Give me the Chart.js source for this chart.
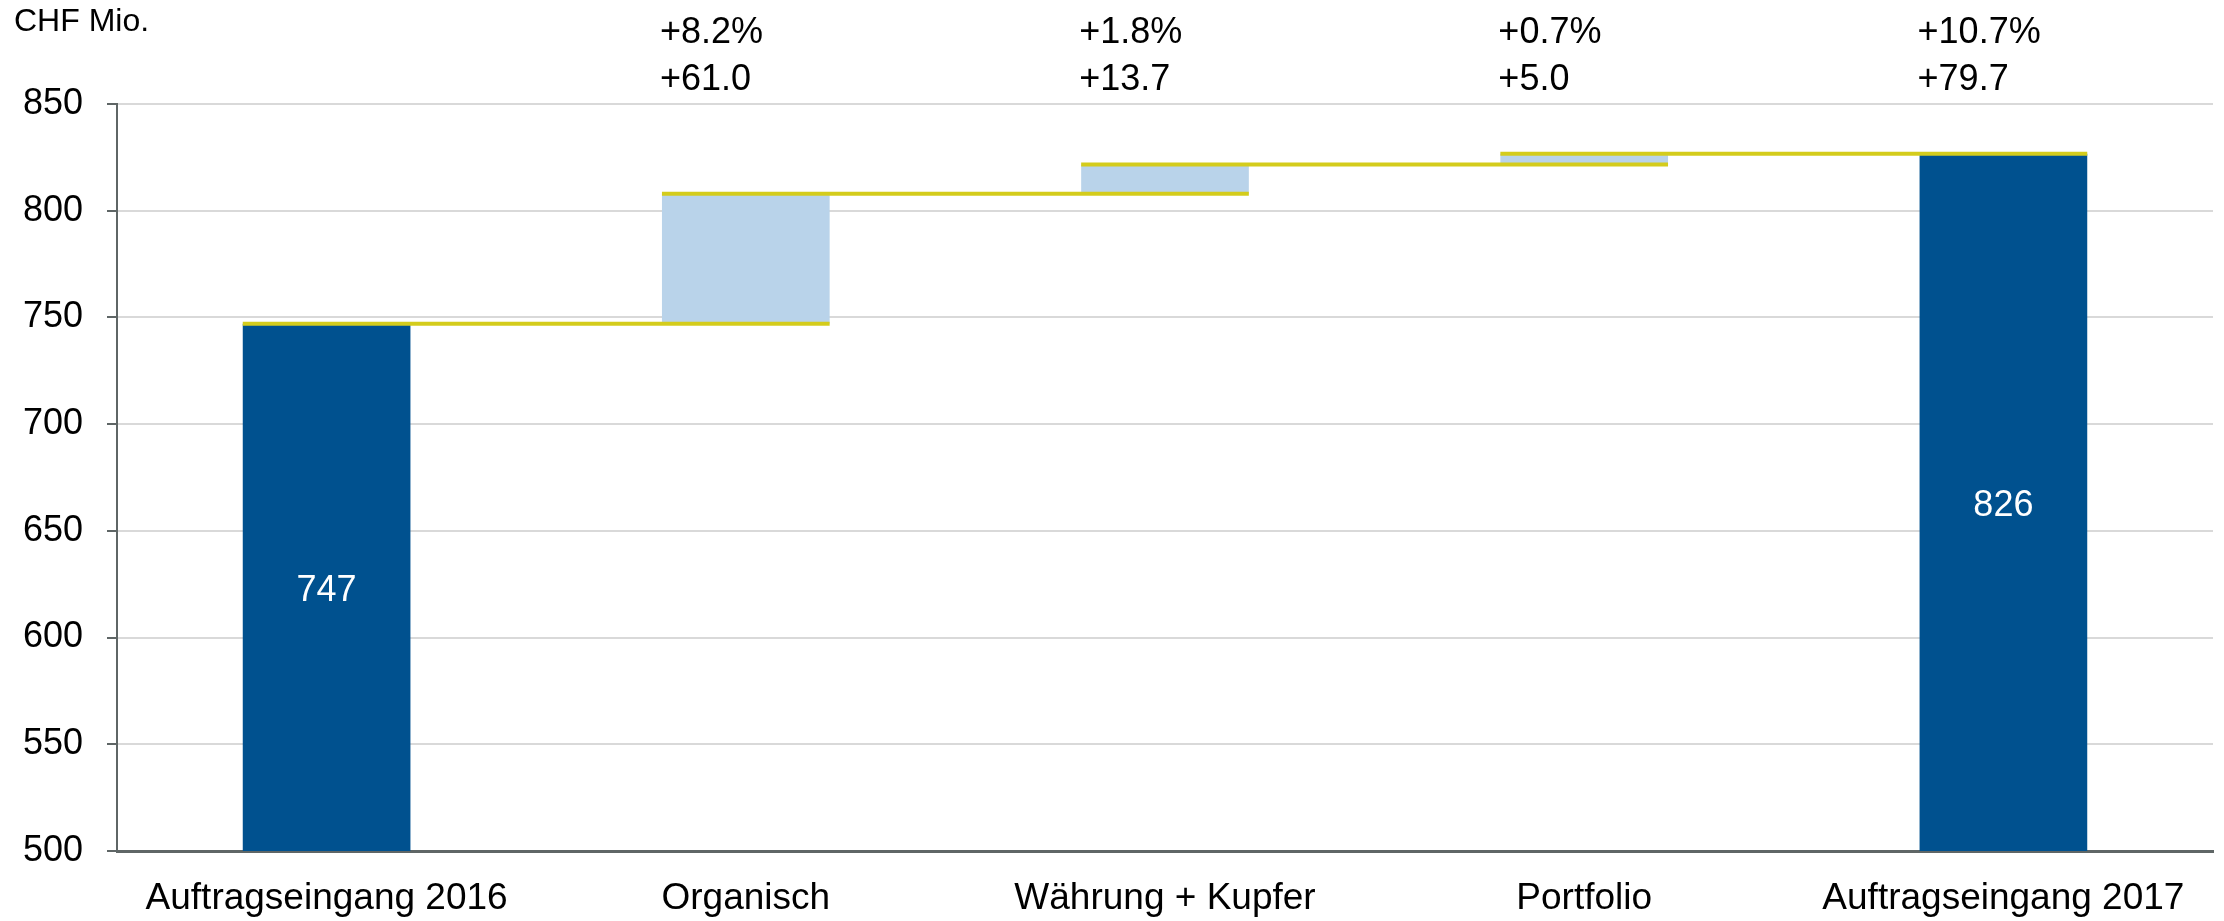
<!DOCTYPE html>
<html>
<head>
<meta charset="utf-8">
<script src="https://cdn.jsdelivr.net/npm/chart.js@4/dist/chart.umd.min.js"></script>
<style>
  html, body { margin: 0; padding: 0; background: #fff; }
  #wrap { width: 2224px; height: 921px; position: relative; }
</style>
</head>
<body>
<div id="wrap"><canvas id="orderChart"></canvas></div>
<script>
// categories and values
const categories = ['Auftragseingang 2016', 'Organisch', 'Währung + Kupfer', 'Portfolio', 'Auftragseingang 2017'];
const startValue = 747.0;
const changes = [61.0, 13.7, 5.0];
const endValue = 826.7;
const insideLabels = ['747', '', '', '', '826'];
const pctLabels = ['', '+8.2%', '+1.8%', '+0.7%', '+10.7%'];
const deltaLabels = ['', '+61.0', '+13.7', '+5.0', '+79.7'];
const yTicks = [500, 550, 600, 650, 700, 750, 800, 850];

const colors = {
    total: '#00518f',
    change: '#b9d3ea',
    connector: '#d4cc1c',
    grid: '#d9d9d9',
    axis: '#5f6666'
};
const FONT = "'Liberation Sans', Arial, sans-serif";

// running levels after each step
const levels = [startValue];
changes.forEach(c => levels.push(+(levels[levels.length - 1] + c).toFixed(1)));
levels[levels.length - 1] = endValue;

const barData = [{ x: 0, y: [yTicks[0], startValue] }];
changes.forEach((c, i) => barData.push({ x: i + 1, y: [levels[i], levels[i + 1]] }));
barData.push({ x: categories.length - 1, y: [yTicks[0], endValue] });
const barColors = categories.map((c, i) => (i === 0 || i === categories.length - 1) ? colors.total : colors.change);

// yellow connectors: from left edge of bar i to right edge of bar i+1
const halfBar = 0.2;
const connectorSets = levels.map((lv, i) => ({
    type: 'line',
    data: [{ x: i - halfBar, y: lv }, { x: i + 1 + halfBar, y: lv }],
    borderColor: colors.connector,
    borderWidth: 4,
    borderCapStyle: 'butt',
    pointRadius: 0,
    order: 0
}));

const labelPlugin = {
    id: 'waterfallLabels',
    afterDatasetsDraw(chart) {
        const ctx = chart.ctx;
        const meta = chart.getDatasetMeta(0);
        const top = chart.chartArea.top;
        ctx.save();
        ctx.textBaseline = 'middle';

        ctx.fillStyle = '#000';
        ctx.font = '32px ' + FONT;
        ctx.textAlign = 'left';
        ctx.fillText('CHF Mio.', 14, 22);

        meta.data.forEach((bar, i) => {
            const left = bar.x - bar.width / 2;
            ctx.font = '36px ' + FONT;
            ctx.fillStyle = '#000';
            ctx.textAlign = 'left';
            if (pctLabels[i]) ctx.fillText(pctLabels[i], left - 2, top - 71);
            if (deltaLabels[i]) ctx.fillText(deltaLabels[i], left - 2, top - 24);
            if (insideLabels[i]) {
                ctx.fillStyle = '#fff';
                ctx.textAlign = 'center';
                ctx.fillText(insideLabels[i], bar.x, (bar.y + bar.base) / 2 + 4);
            }
        });
        ctx.restore();
    }
};

new Chart(document.getElementById('orderChart').getContext('2d'), {
    type: 'bar',
    data: {
        datasets: [
            {
                type: 'bar',
                data: barData,
                backgroundColor: barColors,
                borderWidth: 0,
                categoryPercentage: 1,
                barPercentage: 0.4,
                order: 1
            },
            ...connectorSets
        ]
    },
    options: {
        responsive: true,
        maintainAspectRatio: false,
        animation: false,
        layout: { padding: { top: 104, right: 11, left: 0, bottom: 0 } },
        plugins: {
            legend: { display: false },
            tooltip: { enabled: false }
        },
        scales: {
            x: {
                type: 'linear',
                offset: false,
                min: -0.5,
                max: categories.length - 0.5,
                afterBuildTicks(scale) { scale.ticks = categories.map((c, i) => ({ value: i })); },
                grid: { display: false },
                border: { display: true, color: colors.axis, width: 3 },
                ticks: {
                    color: '#000',
                    font: { family: FONT, size: 37 },
                    padding: 18,
                    maxRotation: 0,
                    autoSkip: false,
                    callback: (v) => categories[v]
                },
                afterFit(scale) { scale.height = 70; }
            },
            y: {
                min: yTicks[0],
                max: yTicks[yTicks.length - 1],
                afterBuildTicks(scale) { scale.ticks = yTicks.map(v => ({ value: v })); },
                grid: {
                    color: colors.grid,
                    lineWidth: 2,
                    tickColor: colors.axis,
                    tickLength: 10
                },
                border: { color: colors.axis, width: 2 },
                ticks: {
                    color: '#000',
                    font: { family: FONT, size: 36 },
                    padding: 24
                },
                afterFit(scale) { scale.width = 117; }
            }
        }
    },
    plugins: [labelPlugin]
});
</script>
</body>
</html>
